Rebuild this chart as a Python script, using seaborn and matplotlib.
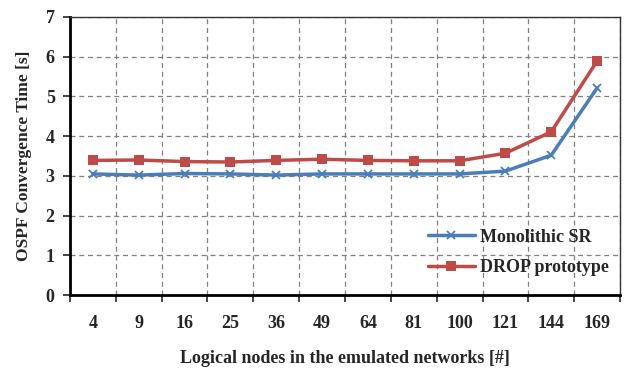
import pandas as pd
import numpy as np
import matplotlib.pyplot as plt
import seaborn as sns
from matplotlib.ticker import FixedLocator

# Data
nodes = ["4", "9", "16", "25", "36", "49", "64", "81", "100", "121", "144", "169"]
monolithic_sr = [3.05, 3.02, 3.06, 3.05, 3.02, 3.05, 3.05, 3.05, 3.05, 3.12, 3.52, 5.21]
drop_prototype = [3.39, 3.40, 3.36, 3.35, 3.39, 3.42, 3.39, 3.38, 3.38, 3.57, 4.11, 5.89]

blue = "#4A7EBB"
red = "#BE4B48"

sns.set_theme(style="white")
plt.rcParams["font.family"] = ["Liberation Serif", "DejaVu Serif"]
plt.rcParams["font.weight"] = "bold"

df = pd.DataFrame({
    "nodes": nodes,
    "Monolithic SR": monolithic_sr,
    "DROP prototype": drop_prototype,
})

fig, ax = plt.subplots(figsize=(6.25, 3.68), dpi=100)
fig.subplots_adjust(left=0.112, right=0.992, top=0.954, bottom=0.198)

# filled and line-art markers can't be mixed in one call, so draw each series
sns.lineplot(data=df, x="nodes", y="Monolithic SR", color=blue, marker="x",
             linewidth=2.5, markersize=6, markeredgewidth=1.3, markeredgecolor=blue,
             sort=False, ax=ax, label="Monolithic SR", zorder=3)
sns.lineplot(data=df, x="nodes", y="DROP prototype", color=red, marker="s",
             linewidth=2.5, markersize=6.5, markeredgewidth=0, sort=False, ax=ax,
             label="DROP prototype", zorder=3)

# boundaries between categories carry the grid and the tick marks (Excel style)
ax.set_xlim(-0.5, len(nodes) - 0.5)
ax.set_ylim(0, 7)
ax.set_yticks(range(0, 8))
ax.xaxis.set_minor_locator(FixedLocator(np.arange(-0.5, len(nodes), 1.0)))
ax.tick_params(axis="x", which="major", length=0, pad=14, labelsize=13)
ax.tick_params(axis="x", which="minor", length=5, width=1.2, direction="out", bottom=True)
ax.tick_params(axis="y", which="major", length=5, width=1.2, direction="out", left=True,
               labelsize=13, pad=6)
for lbl in ax.get_xticklabels() + ax.get_yticklabels():
    lbl.set_fontweight("bold")

ax.grid(False)
ax.grid(True, which="minor", axis="x", color="#808080", linestyle=(0, (4, 3)), linewidth=0.9)
ax.grid(True, which="major", axis="y", color="#808080", linestyle=(0, (4, 3)), linewidth=0.9)
ax.set_axisbelow(True)

for side in ["left", "bottom"]:
    ax.spines[side].set_linewidth(2.0)
    ax.spines[side].set_color("black")
for side in ["top", "right"]:
    ax.spines[side].set_linewidth(1.0)
    ax.spines[side].set_color("#333333")

ax.set_xlabel("Logical nodes in the emulated networks [#]", fontsize=13,
              fontweight="bold", labelpad=13)
ax.set_ylabel("OSPF Convergence Time [s]", fontsize=12.5, fontweight="bold", labelpad=10)

leg = ax.legend(loc="lower right", bbox_to_anchor=(1.01, 0.01), frameon=False,
                handlelength=2.6, handletextpad=0.3, labelspacing=0.75,
                prop={"weight": "bold", "size": 13})

fig.savefig("out.png", dpi=100)
plt.close(fig)
